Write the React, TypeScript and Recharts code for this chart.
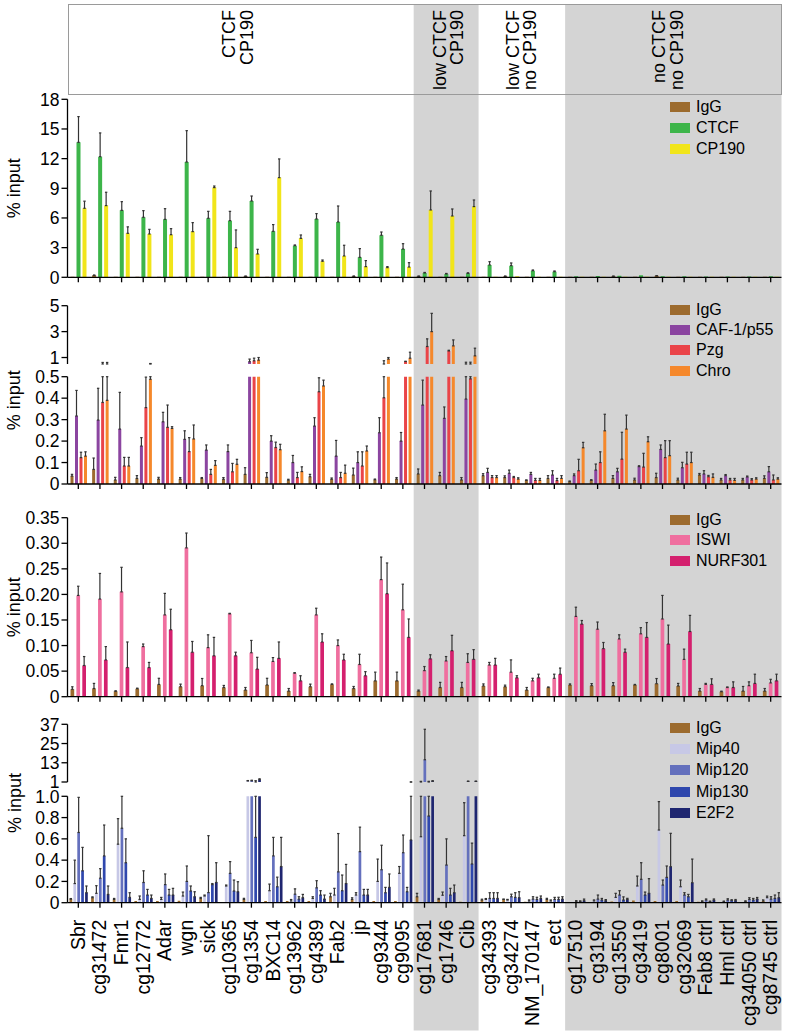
import React from 'react';
import { BarChart, Bar, XAxis, YAxis, ErrorBar, ReferenceArea, Legend } from 'recharts';

// ---------------- categories ----------------
const categories = [
  'Sbr', 'cg31472', 'Fmr1', 'cg12772', 'Adar', 'wgn', 'sick', 'cg10365', 'cg1354', 'BXC14',
  'cg13962', 'cg4389', 'Fab2', 'jp', 'cg9344', 'cg9095', 'cg17681', 'cg1746', 'Cib',
  'cg34393', 'cg34274', 'NM_170147', 'ect', 'cg17510', 'cg3194', 'cg13550', 'cg3419',
  'cg8001', 'cg32069', 'Fab8 ctrl', 'Hml ctrl', 'cg34050 ctrl', 'cg8745 ctrl',
];

// ---------------- panel 1 (% input, IgG / CTCF / CP190) ----------------
const p1Ticks = [0, 3, 6, 9, 12, 15, 18];
const igg1 = [0.05, 0.2, 0.05, 0.05, 0.05, 0.05, 0.05, 0.05, 0.1, 0.05, 0.05, 0.05, 0.05, 0.1, 0.05, 0.05, 0.1, 0.05, 0.05, 0.05, 0.1, 0.05, 0.05, 0.05, 0.05, 0.1, 0.05, 0.15, 0.05, 0.05, 0.05, 0.05, 0.05];
const igg1Err = [0, 0.02, 0, 0, 0, 0, 0, 0, 0.02, 0, 0, 0, 0, 0.02, 0, 0, 0.02, 0, 0, 0, 0.02, 0, 0, 0, 0, 0.02, 0, 0.02, 0, 0, 0, 0, 0];
const ctcf = [13.65, 12.2, 6.77, 6.07, 5.86, 11.66, 5.97, 5.73, 7.72, 4.65, 3.2, 5.9, 5.6, 2.02, 4.25, 2.86, 0.44, 0.34, 0.4, 1.25, 1.18, 0.67, 0.57, 0.1, 0.12, 0.15, 0.2, 0.1, 0.1, 0.08, 0.08, 0.08, 0.1];
const ctcfErr = [2.6, 2.4, 0.88, 0.67, 1.08, 3.17, 0.7, 0.94, 0.5, 0.68, 0.07, 0.54, 1.61, 0.88, 0.33, 0.54, 0.05, 0.05, 0.05, 0.33, 0.27, 0.07, 0.07, 0, 0, 0, 0, 0, 0, 0, 0, 0, 0];
const cp190 = [6.98, 7.25, 4.45, 4.38, 4.31, 4.62, 9.07, 3.0, 2.36, 10.08, 3.94, 1.62, 2.16, 1.08, 0.98, 1.04, 6.81, 6.2, 7.15, 0.05, 0.1, 0.05, 0.05, 0.05, 0.05, 0.05, 0.05, 0.05, 0.05, 0.05, 0.05, 0.05, 0.05];
const cp190Err = [0.72, 1.35, 0.65, 0.47, 0.61, 0.91, 0.16, 1.79, 0.47, 1.89, 0.34, 0.13, 1.08, 0.61, 0.1, 0.44, 1.92, 0.71, 0.67, 0, 0, 0, 0, 0, 0, 0, 0, 0, 0, 0, 0, 0, 0];

// ---------------- panel 2 (IgG / CAF-1/p55 / Pzg / Chro), broken axis ----------------
const p2UpperTicks = [1, 3, 5];
const p2LowerTicks = [0, 0.1, 0.2, 0.3, 0.4, 0.5];
const igg2 = [0.037, 0.068, 0.019, 0.026, 0.023, 0.023, 0.026, 0.022, 0.045, 0.031, 0.018, 0.034, 0.022, 0.042, 0.02, 0.023, 0.047, 0.039, 0.019, 0.039, 0.03, 0.017, 0.026, 0.011, 0.017, 0.026, 0.019, 0.03, 0.019, 0.042, 0.019, 0.019, 0.026];
const igg2Err = [0.008, 0.053, 0.012, 0.013, 0.008, 0.007, 0.004, 0.008, 0.031, 0.022, 0.004, 0.011, 0.006, 0.032, 0.003, 0.007, 0.023, 0.015, 0.011, 0.009, 0.008, 0.002, 0.013, 0.003, 0.003, 0.013, 0.008, 0.02, 0.008, 0.007, 0.007, 0.007, 0.012];
const caf = [0.317, 0.298, 0.256, 0.177, 0.29, 0.208, 0.158, 0.151, 0.68, 0.2, 0.1, 0.27, 0.13, 0.1, 0.239, 0.2, 0.368, 0.306, 0.396, 0.054, 0.05, 0.045, 0.042, 0.039, 0.065, 0.057, 0.081, 0.161, 0.076, 0.047, 0.039, 0.033, 0.057];
const cafErr = [0.119, 0.148, 0.171, 0.039, 0.044, 0.04, 0.024, 0.031, 0.2, 0.025, 0.033, 0.039, 0.073, 0.05, 0.07, 0.04, 0.116, 0.053, 0.24, 0.019, 0.015, 0.009, 0.02, 0.008, 0.028, 0.016, 0.004, 0.021, 0.025, 0.015, 0.005, 0.004, 0.024];
const pzg = [0.123, 0.38, 0.084, 0.356, 0.264, 0.151, 0.045, 0.057, 0.75, 0.17, 0.03, 0.43, 0.03, 0.084, 0.402, 0.69, 1.85, 1.51, 0.49, 0.03, 0.03, 0.017, 0.016, 0.062, 0.1, 0.116, 0.079, 0.123, 0.093, 0.034, 0.019, 0.019, 0.019];
const pzgErr = [0.025, 0.24, 0.04, 0.142, 0.104, 0.065, 0.023, 0.039, 0.2, 0.025, 0.024, 0.065, 0.024, 0.066, 0.35, 0.02, 0.59, 0.05, 0.15, 0.009, 0.005, 0.009, 0.01, 0.053, 0.05, 0.125, 0.064, 0.079, 0.055, 0.006, 0.007, 0.006, 0.023];
const chro = [0.13, 0.39, 0.084, 0.488, 0.259, 0.21, 0.087, 0.092, 0.8, 0.16, 0.058, 0.457, 0.05, 0.154, 0.88, 0.95, 3.0, 1.9, 1.13, 0.03, 0.023, 0.017, 0.026, 0.169, 0.248, 0.256, 0.197, 0.132, 0.1, 0.031, 0.017, 0.023, 0.023];
const chroErr = [0.02, 0.23, 0.04, 0.05, 0.008, 0.065, 0.022, 0.023, 0.2, 0.025, 0.022, 0.027, 0.038, 0.023, 0.12, 0.46, 1.41, 0.46, 0.59, 0.009, 0.006, 0.009, 0.013, 0.025, 0.077, 0.065, 0.023, 0.07, 0.048, 0.016, 0.009, 0.006, 0.006];

// ---------------- panel 3 (IgG / ISWI / NURF301) ----------------
const p3Ticks = [0, 0.05, 0.1, 0.15, 0.2, 0.25, 0.3, 0.35];
const igg3 = [0.0144, 0.016, 0.0105, 0.0157, 0.024, 0.0196, 0.0216, 0.018, 0.013, 0.023, 0.011, 0.0196, 0.024, 0.016, 0.031, 0.031, 0.011, 0.018, 0.018, 0.021, 0.0196, 0.013, 0.018, 0.023, 0.0216, 0.0216, 0.023, 0.0255, 0.021, 0.011, 0.0098, 0.011, 0.011];
const igg3Err = [0.005, 0.01, 0.001, 0.001, 0.012, 0.005, 0.014, 0.004, 0.005, 0.013, 0.005, 0.005, 0.001, 0.004, 0.017, 0.017, 0.002, 0.01, 0.01, 0.004, 0.003, 0.005, 0.001, 0.002, 0.004, 0.006, 0.001, 0.01, 0.005, 0.005, 0.001, 0.009, 0.005];
const iswi = [0.198, 0.191, 0.205, 0.098, 0.16, 0.291, 0.096, 0.162, 0.086, 0.069, 0.046, 0.16, 0.1, 0.063, 0.229, 0.17, 0.051, 0.07, 0.067, 0.062, 0.048, 0.031, 0.036, 0.157, 0.132, 0.113, 0.123, 0.152, 0.073, 0.024, 0.018, 0.0216, 0.027];
const iswiErr = [0.018, 0.05, 0.048, 0.005, 0.042, 0.029, 0.025, 0.001, 0.024, 0.0075, 0.001, 0.013, 0.011, 0.02, 0.044, 0.05, 0.008, 0.0085, 0.017, 0.005, 0.024, 0.005, 0.008, 0.018, 0.014, 0.008, 0.012, 0.046, 0.02, 0.002, 0.001, 0.0074, 0.007];
const nurf = [0.061, 0.072, 0.057, 0.057, 0.131, 0.087, 0.08, 0.08, 0.054, 0.075, 0.031, 0.107, 0.072, 0.041, 0.2015, 0.116, 0.074, 0.09, 0.073, 0.062, 0.037, 0.037, 0.044, 0.142, 0.094, 0.087, 0.116, 0.103, 0.1275, 0.024, 0.018, 0.026, 0.031];
const nurfErr = [0.0175, 0.026, 0.05, 0.01, 0.04, 0.021, 0.036, 0.007, 0.023, 0.032, 0.01, 0.016, 0.011, 0.008, 0.06, 0.036, 0.008, 0.03, 0.019, 0.013, 0.004, 0.007, 0.012, 0.007, 0.012, 0.006, 0.029, 0.037, 0.0315, 0.011, 0.011, 0.018, 0.013];

// ---------------- panel 4 (IgG / Mip40 / Mip120 / Mip130 / E2F2), broken axis ----------------
const p4UpperTicks = [1, 13, 25, 37];
const p4LowerTicks = [0, 0.2, 0.4, 0.6, 0.8, 1.0];
const igg4 = [0.034, 0.047, 0.031, 0.016, 0.016, 0.019, 0.04, 0.005, 0.031, 0.016, 0.016, 0.016, 0.056, 0.031, 0.016, 0.016, 0.056, 0.03, 0.01, 0.025, 0.031, 0.01, 0.031, 0.006, 0.006, 0.012, 0.02, 0.016, 0.016, 0.01, 0.006, 0.006, 0.016];
const igg4Err = [0.005, 0.008, 0.009, 0, 0, 0, 0.01, 0, 0.01, 0, 0, 0, 0.032, 0.015, 0, 0, 0.032, 0.01, 0, 0.008, 0.003, 0, 0.01, 0, 0, 0, 0, 0, 0, 0, 0, 0, 0.01];
const mip40 = [0.18, 0.088, 0.55, 0.031, 0.031, 0.063, 0.063, 0.157, 1.7, 0.113, 0.016, 0.04, 0.072, 0.072, 0.2, 0.276, 0.62, 0.07, 0.63, 0.031, 0.025, 0.016, 0.016, 0.008, 0.016, 0.05, 0.157, 0.683, 0.15, 0.012, 0.01, 0.012, 0.047];
const mip40Err = [0.22, 0.072, 0.24, 0.032, 0.019, 0.037, 0.009, 0.009, 0.2, 0.062, 0.014, 0.016, 0.063, 0.022, 0.21, 0.064, 0.78, 0.03, 0.31, 0.008, 0.006, 0.01, 0.01, 0, 0.01, 0.038, 0.093, 0.267, 0.063, 0.005, 0.005, 0.005, 0.015];
const mip120 = [0.66, 0.23, 0.7, 0.19, 0.17, 0.2, 0.095, 0.276, 1.8, 0.44, 0.08, 0.14, 0.29, 0.48, 0.31, 0.47, 14.9, 0.354, 1.4, 0.04, 0.056, 0.034, 0.031, 0.01, 0.034, 0.072, 0.22, 0.166, 0.072, 0.025, 0.025, 0.031, 0.034];
const mip120Err = [0.33, 0.09, 0.3, 0.11, 0.1, 0.145, 0.535, 0.11, 0.3, 0.174, 0.05, 0.067, 0.36, 0.23, 0.23, 0.166, 19, 0.246, 0.1, 0.054, 0.024, 0.022, 0.019, 0.01, 0.038, 0.041, 0.156, 0.047, 0.022, 0.01, 0.012, 0.016, 0.022];
const mip130 = [0.3, 0.44, 0.376, 0.072, 0.072, 0.11, 0.17, 0.11, 0.614, 0.15, 0.034, 0.072, 0.113, 0.072, 0.094, 0.103, 0.815, 0.072, 0.364, 0.04, 0.05, 0.031, 0.031, 0.012, 0.025, 0.025, 0.072, 0.238, 0.056, 0.01, 0.02, 0.025, 0.04];
const mip130Err = [0.22, 0.29, 0.224, 0.053, 0.053, 0.047, 0.01, 0.103, 1.2, 0.09, 0.022, 0.041, 0.147, 0.053, 0.05, 0.041, 0.6, 0.063, 0.196, 0.054, 0.044, 0.02, 0.02, 0.005, 0.015, 0.03, 0.028, 0.107, 0.022, 0.005, 0.008, 0.015, 0.032];
const e2f2 = [0.094, 0.078, 0.05, 0.04, 0.072, 0.056, 0.19, 0.103, 2.5, 0.34, 0.047, 0.034, 0.18, 0.072, 0.144, 0.59, 1.5, 0.094, 1.4, 0.04, 0.047, 0.04, 0.034, 0.019, 0.019, 0.031, 0.088, 0.339, 0.188, 0.025, 0.02, 0.034, 0.047];
const e2f2Err = [0.063, 0.079, 0.044, 0.032, 0.063, 0.047, 0.186, 0.094, 0.5, 0.274, 0.031, 0.038, 0.18, 0.053, 0.126, 0.43, 0.3, 0.072, 0.1, 0.054, 0.056, 0.023, 0.022, 0.015, 0.01, 0.01, 0.138, 0.313, 0.222, 0.01, 0.01, 0.015, 0.047];

// ---------------- header groups ----------------
const headerGroups = [
  { from: 'Sbr', to: 'cg9095', lines: ['CTCF', 'CP190'], grey: false, dx: -3 },
  { from: 'cg17681', to: 'Cib', lines: ['low CTCF', 'CP190'], grey: true, dx: 2 },
  { from: 'cg34393', to: 'ect', lines: ['low CTCF', 'no CP190'], grey: false, dx: -1 },
  { from: 'cg17510', to: 'cg8745 ctrl', lines: ['no CTCF', 'no CP190'], grey: true, dx: -6 },
];

// ---------------- styling ----------------
const FONT = '"Liberation Sans", Arial, Helvetica, sans-serif';
const W = 787;
const H = 1036;
const Y_AXIS_W = 67.5;
const RIGHT_M = 5.5;
const PLOT_W = W - Y_AXIS_W - RIGHT_M;
const GREY = '#d4d4d4';
const COL = {
  igg: '#9c6b2e', ctcf: '#3db54a', cp190: '#f1e51a', caf: '#8b45a0', pzg: '#ea4448', chro: '#f5882b',
  iswi: '#ef6f9f', nurf: '#d4206e', mip40: '#c7c8e6', mip120: '#6470bd', mip130: '#2f47ad', e2f2: '#1f2670',
};

type S = { key: string; name: string; color: string; values: number[]; errors: number[] };

const p1Series: S[] = [
  { key: 'igg', name: 'IgG', color: COL.igg, values: igg1, errors: igg1Err },
  { key: 'ctcf', name: 'CTCF', color: COL.ctcf, values: ctcf, errors: ctcfErr },
  { key: 'cp190', name: 'CP190', color: COL.cp190, values: cp190, errors: cp190Err },
];
const p2Series: S[] = [
  { key: 'igg', name: 'IgG', color: COL.igg, values: igg2, errors: igg2Err },
  { key: 'caf', name: 'CAF-1/p55', color: COL.caf, values: caf, errors: cafErr },
  { key: 'pzg', name: 'Pzg', color: COL.pzg, values: pzg, errors: pzgErr },
  { key: 'chro', name: 'Chro', color: COL.chro, values: chro, errors: chroErr },
];
const p3Series: S[] = [
  { key: 'igg', name: 'IgG', color: COL.igg, values: igg3, errors: igg3Err },
  { key: 'iswi', name: 'ISWI', color: COL.iswi, values: iswi, errors: iswiErr },
  { key: 'nurf', name: 'NURF301', color: COL.nurf, values: nurf, errors: nurfErr },
];
const p4Series: S[] = [
  { key: 'igg', name: 'IgG', color: COL.igg, values: igg4, errors: igg4Err },
  { key: 'mip40', name: 'Mip40', color: COL.mip40, values: mip40, errors: mip40Err },
  { key: 'mip120', name: 'Mip120', color: COL.mip120, values: mip120, errors: mip120Err },
  { key: 'mip130', name: 'Mip130', color: COL.mip130, values: mip130, errors: mip130Err },
  { key: 'e2f2', name: 'E2F2', color: COL.e2f2, values: e2f2, errors: e2f2Err },
];

function buildRows(series: S[]) {
  return categories.map((cat, i) => {
    const row: any = { cat };
    series.forEach((s) => {
      row[s.key] = s.values[i];
      row[s.key + '_e'] = s.errors[i];
    });
    return row;
  });
}

const errAccessor = (key: string, lo: number, hi: number) => (row: any) => {
  const v = row[key];
  const e = row[key + '_e'];
  if (v == null || !e) return undefined;
  const from = Math.max(v, lo);
  const to = Math.min(v + e, hi);
  if (to <= from) return undefined;
  return [v - from, to - v];
};

const EmptyTick = () => <g />;

const XLabelTick = (props: any) => {
  const { x, y, payload } = props;
  return (
    <text transform={`translate(${x + 6.5},${y}) rotate(-90)`} textAnchor="end" fontSize={19.5} fill="#000">
      {payload.value}
    </text>
  );
};

const YLabel = (props: any) => {
  const vb = props.viewBox || {};
  const cx = (vb.x || 0) + 14.5;
  const cy = (vb.y || 0) + (vb.height || 0) / 2 + (props.shift || 0);
  return (
    <text x={cx} y={cy} transform={`rotate(-90, ${cx}, ${cy})`} textAnchor="middle" dominantBaseline="central" fontSize={18} fill="#000">
      % input
    </text>
  );
};

const makeLegend = (series: S[], rowH: number) => () => (
  <div style={{ fontFamily: FONT }}>
    {series.map((s, i) => (
      <div key={i} style={{ display: 'flex', alignItems: 'center', height: rowH }}>
        <div style={{ width: 20, height: 10, background: s.color, marginRight: 6 }} />
        <span style={{ fontSize: 16, color: '#000', lineHeight: 1 }}>{s.name}</span>
      </div>
    ))}
  </div>
);

type PanelProps = {
  top: number;
  height: number;
  marginTop: number;
  marginBottom: number;
  xAxisHeight: number;
  showX: boolean;
  xLabels?: boolean;
  domain: [number, number];
  ticks: number[];
  fmt: (v: number) => string;
  series: S[];
  barSize: number;
  barGap: number;
  legendTop?: number;
  legendRow?: number;
  yLabel?: boolean;
  yLabelShift?: number;
};

function Panel(p: PanelProps) {
  const rows = buildRows(p.series);
  const axisStroke = { stroke: '#000', strokeWidth: 1.3 };
  return (
    <div style={{ position: 'absolute', left: 0, top: p.top, width: W, height: p.height }}>
      <BarChart
        width={W}
        height={p.height}
        data={rows}
        margin={{ top: p.marginTop, right: RIGHT_M, bottom: p.marginBottom, left: 0 }}
        barSize={p.barSize}
        barGap={p.barGap}
      >
        <XAxis
          dataKey="cat"
          hide={!p.showX}
          interval={0}
          height={p.showX ? p.xAxisHeight : 0}
          tickSize={5}
          tickMargin={12}
          tick={p.xLabels ? XLabelTick : EmptyTick}
          axisLine={axisStroke}
          tickLine={axisStroke}
        />
        <YAxis
          type="number"
          domain={p.domain}
          ticks={p.ticks}
          allowDataOverflow
          interval={0}
          width={Y_AXIS_W}
          tickSize={6}
          tickMargin={2}
          tick={{ fontSize: 17.5, fill: '#000' }}
          tickFormatter={p.fmt}
          axisLine={axisStroke}
          tickLine={axisStroke}
          label={p.yLabel ? { content: (lp: any) => <YLabel {...lp} shift={p.yLabelShift || 0} /> } : undefined}
        />
        {p.series.map((s) => (
          <Bar key={s.key} dataKey={s.key} name={s.name} fill={s.color} barSize={p.barSize} isAnimationActive={false}>
            <ErrorBar
              dataKey={errAccessor(s.key, p.domain[0], p.domain[1]) as any}
              width={1.2}
              strokeWidth={1.2}
              stroke="#333"
              direction="y"
            />
          </Bar>
        ))}
        {p.legendTop !== undefined && (
          <Legend
            layout="vertical"
            align="center"
            verticalAlign="middle"
            content={makeLegend(p.series, p.legendRow || 21)}
            wrapperStyle={{ position: 'absolute', top: p.legendTop, left: 670, width: 117, height: 'auto' }}
          />
        )}
      </BarChart>
    </div>
  );
}

function Background() {
  const rows = categories.map((cat) => ({ cat, zero: 0 }));
  return (
    <div style={{ position: 'absolute', left: 0, top: 0, width: W, height: H }}>
      <BarChart width={W} height={H} data={rows} margin={{ top: 4, right: RIGHT_M, bottom: 5.5, left: Y_AXIS_W }}>
        <XAxis dataKey="cat" hide />
        <YAxis hide domain={[0, 1]} />
        <Bar dataKey="zero" fill="none" isAnimationActive={false} />
        {headerGroups.filter((g) => g.grey).map((g, i) => (
          <ReferenceArea key={i} x1={g.from} x2={g.to} fill={GREY} fillOpacity={1} stroke="none" ifOverflow="visible" />
        ))}
      </BarChart>
    </div>
  );
}

function HeaderTexts() {
  const band = PLOT_W / categories.length;
  const gap = 17.5;
  const y = 10;
  return (
    <svg width={W} height={100} style={{ position: 'absolute', left: 0, top: 0, overflow: 'visible' }}>
      {headerGroups.map((g, gi) => {
        const i0 = categories.indexOf(g.from);
        const i1 = categories.indexOf(g.to);
        const cx = Y_AXIS_W + ((i0 + i1 + 1) / 2) * band + g.dx;
        return g.lines.map((t, li) => {
          const bx = cx + (li - (g.lines.length - 1) / 2) * gap + 6.5;
          return (
            <text
              key={`${gi}-${li}`}
              x={bx}
              y={y}
              transform={`rotate(-90, ${bx}, ${y})`}
              textAnchor="end"
              fontSize={18}
              fill="#000"
              fontFamily={FONT}
            >
              {t}
            </text>
          );
        });
      })}
    </svg>
  );
}

const fmtInt = (v: number) => String(v);
const fmt1 = (v: number) => (v === 0 ? '0' : v.toFixed(1));
const fmt2 = (v: number) => (v === 0 ? '0' : v.toFixed(2));

export default function App() {
  return (
    <div style={{ position: 'absolute', left: 0, top: 0, width: W, height: H, background: '#fff', fontFamily: FONT }}>
      <Background />
      <div
        style={{
          position: 'absolute', left: 67.5, top: 3.5, width: 714, height: 91,
          border: '1px solid #9a9a9a', boxSizing: 'border-box',
        }}
      />
      <HeaderTexts />
      {/* Panel 1 */}
      <Panel
        top={85} height={205} marginTop={14.3} marginBottom={0} xAxisHeight={12.7} showX
        domain={[0, 18]} ticks={p1Ticks} fmt={fmtInt} series={p1Series}
        barSize={4} barGap={2} legendTop={11.2} legendRow={21.3} yLabel
      />
      {/* Panel 2 upper */}
      <Panel
        top={292} height={82} marginTop={13.7} marginBottom={10} xAxisHeight={0} showX={false}
        domain={[0.5, 5]} ticks={p2UpperTicks} fmt={fmtInt} series={p2Series}
        barSize={3} barGap={1.5} legendTop={7.9} legendRow={20.2}
      />
      {/* Panel 2 lower */}
      <Panel
        top={362} height={134} marginTop={14.7} marginBottom={0} xAxisHeight={12} showX
        domain={[0, 0.5]} ticks={p2LowerTicks} fmt={fmt1} series={p2Series}
        barSize={3} barGap={1.5} yLabel yLabelShift={-30}
      />
      {/* Panel 3 */}
      <Panel
        top={500} height={208} marginTop={17.7} marginBottom={0} xAxisHeight={11.3} showX
        domain={[0, 0.35]} ticks={p3Ticks} fmt={fmt2} series={p3Series}
        barSize={3.7} barGap={2.2} legendTop={9.85} legendRow={20.3} yLabel
      />
      {/* Panel 4 upper */}
      <Panel
        top={710} height={84} marginTop={14.3} marginBottom={12} xAxisHeight={0} showX={false}
        domain={[1, 37]} ticks={p4UpperTicks} fmt={fmtInt} series={p4Series}
        barSize={2.7} barGap={1.2} legendTop={7.75} legendRow={21.1}
      />
      {/* Panel 4 lower */}
      <Panel
        top={755} height={281} marginTop={41.3} marginBottom={0} xAxisHeight={133.3} showX xLabels
        domain={[0, 1]} ticks={p4LowerTicks} fmt={fmt1} series={p4Series}
        barSize={2.7} barGap={1.2} yLabel yLabelShift={-46.5}
      />
    </div>
  );
}
